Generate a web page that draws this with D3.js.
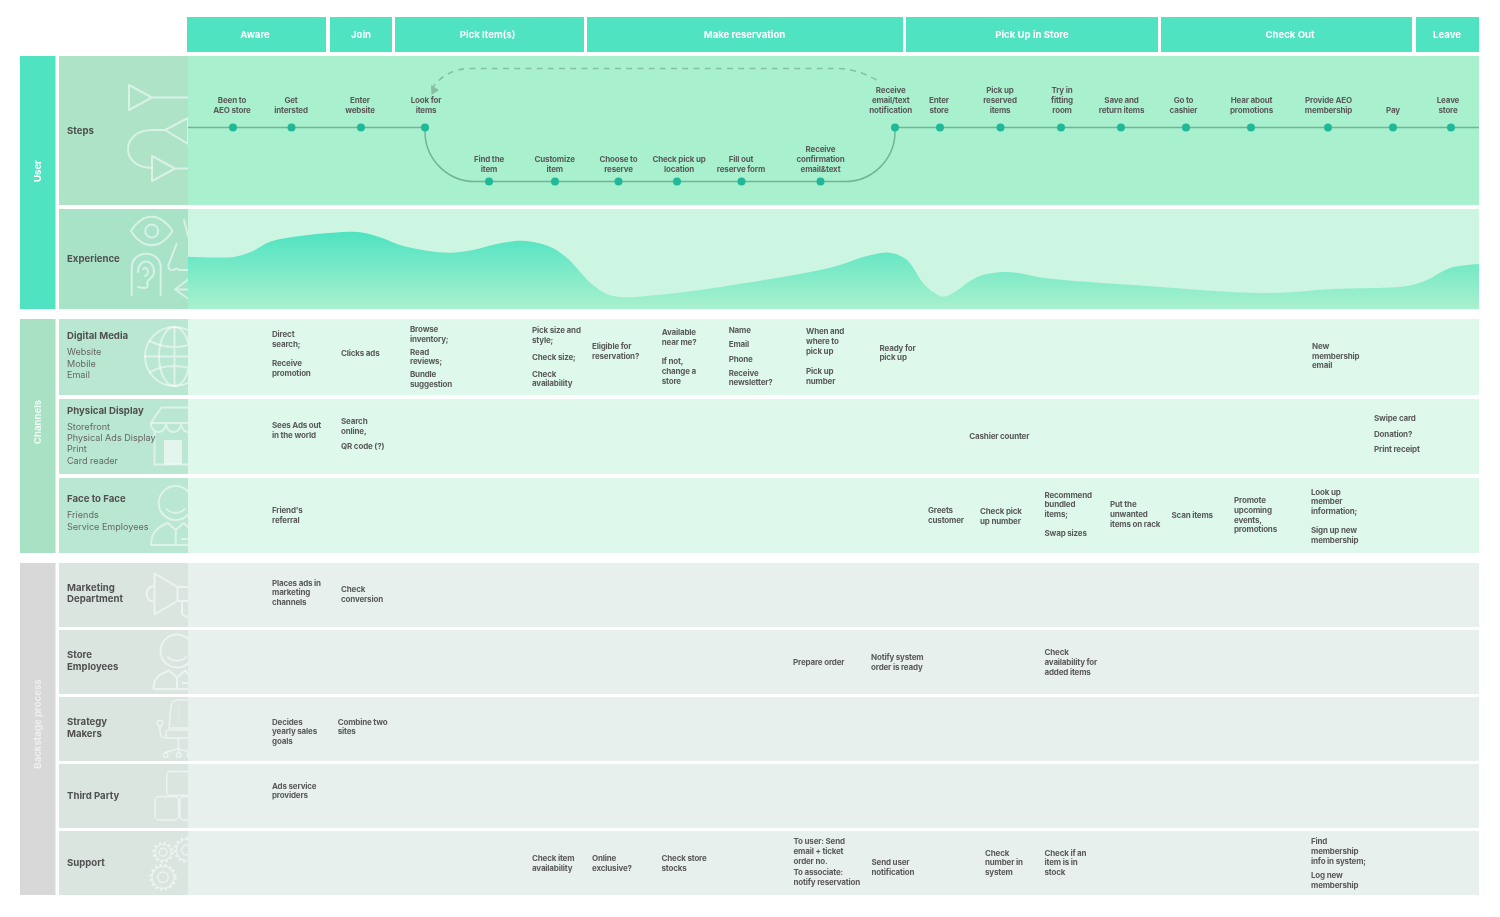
<!DOCTYPE html>
<html>
<head>
<meta charset="utf-8">
<script src="https://cdn.jsdelivr.net/npm/d3@7"></script>
<style>
    html, body { margin: 0; padding: 0; background: #fff; }
    svg { display: block; filter: blur(0.5px); font-family: Inter, "Noto Sans", sans-serif; }
</style>
</head>
<body>
<div id="chart"></div>
<script>
'use strict';

// journey phases, start / end are distances along the journey axis
const stageNames = ['Aware', 'Join', 'Pick Item(s)', 'Make reservation', 'Pick Up in Store', 'Check Out', 'Leave'];
const stageStart = [-1, 142, 207, 399, 718, 973, 1228];
const stageEnd = [138, 204, 396, 715, 970, 1224, 1291];
const stageLabelPos = [67, 173, 299.5, 556.5, 844, 1102, 1259];

// steps: dot position, label position, lane (0 upper, 1 lower)
const stepLabels = [
    ['Been to', 'AEO store'], ['Get', 'intersted'], ['Enter', 'website'], ['Look for', 'items'],
    ['Find the', 'item'], ['Customize', 'item'], ['Choose to', 'reserve'], ['Check pick up', 'location'],
    ['Fill out', 'reserve form'], ['Receive', 'confirmation', 'email&text'],
    ['Receive', 'email/text', 'notification'], ['Enter', 'store'], ['Pick up', 'reserved', 'items'],
    ['Try in', 'fitting', 'room'], ['Save and', 'return items'], ['Go to', 'cashier'],
    ['Hear about', 'promotions'], ['Provide AEO', 'membership'], ['Pay'], ['Leave', 'store']
];
const stepPos = [45, 103.5, 173, 237, 301, 367, 430.5, 489, 553.5, 632.5, 707, 752, 812.5, 873, 933, 998, 1063, 1140, 1205, 1263];
const stepLabelPos = [44, 103, 172, 238, 301, 366.7, 430.5, 491, 553, 632.5, 702.7, 751, 812, 874, 933.5, 995.5, 1063.5, 1140.5, 1205, 1260];
const stepLane = [0, 0, 0, 0, 1, 1, 1, 1, 1, 1, 0, 0, 0, 0, 0, 0, 0, 0, 0, 0];

// experience curve
const expPos = [0, 47, 65, 82, 112, 145, 172, 195, 212, 239, 262, 285, 312, 335, 362, 379, 405, 425, 479, 545, 645, 679, 702, 719, 735, 745, 755, 767, 779, 792, 812, 829, 855, 945, 1079, 1145, 1219, 1239, 1262, 1291];
const expScore = [52.3, 52.3, 58, 67.3, 73, 76.3, 76.7, 70.7, 64, 58.3, 56.3, 59, 65.7, 68.3, 62.3, 51, 24, 13, 15, 24, 42, 53, 56.3, 49, 26, 17, 12.3, 17, 26, 33, 36.7, 36.3, 31.3, 24, 16, 20, 23, 29, 41, 45];

const bandNames = ['User', 'Channels', 'Backstage process'];

const rowTitles = [
    ['Steps'], ['Experience'], ['Digital Media'], ['Physical Display'], ['Face to Face'],
    ['Marketing', 'Department'], ['Store', 'Employees'], ['Strategy', 'Makers'], ['Third Party'], ['Support']
];
const rowTitleY = [[130.7], [258.3], [335.7], [411], [499], [587.7, 599], [655, 666.3], [722, 733.3], [795.3], [862.7]];
const rowItems = [
    [], [], ['Website', 'Mobile', 'Email'], ['Storefront', 'Physical Ads Display', 'Print', 'Card reader'],
    ['Friends', 'Service Employees'], [], [], [], [], []
];
const rowItemY = [[], [], [352.3, 363.7, 375], [426.7, 438, 449.3, 460.7], [515.3, 526.7], [], [], [], [], []];

// touchpoint notes: text lines, position along the journey, page y of every line
const noteText = [
    ['Direct', 'search;', 'Receive', 'promotion'],
    ['Clicks ads'],
    ['Browse', 'inventory;', 'Read', 'reviews;', 'Bundle', 'suggestion'],
    ['Pick size and', 'style;', 'Check size;', 'Check', 'availability'],
    ['Eligible for', 'reservation?'],
    ['Available', 'near me?', 'If not,', 'change a', 'store'],
    ['Name', 'Email', 'Phone', 'Receive', 'newsletter?'],
    ['When and', 'where to', 'pick up', 'Pick up', 'number'],
    ['Ready for', 'pick up'],
    ['New', 'membership', 'email'],
    ['Sees Ads out', 'in the world'],
    ['Search', 'online,', 'QR code (?)'],
    ['Cashier counter'],
    ['Swipe card', 'Donation?', 'Print receipt'],
    ["Friend's", 'referral'],
    ['Greets', 'customer'],
    ['Check pick', 'up number'],
    ['Recommend', 'bundled', 'items;', 'Swap sizes'],
    ['Put the', 'unwanted', 'items on rack'],
    ['Scan items'],
    ['Promote', 'upcoming', 'events,', 'promotions'],
    ['Look up', 'member', 'information;', 'Sign up new', 'membership'],
    ['Places ads in', 'marketing', 'channels'],
    ['Check', 'conversion'],
    ['Prepare order'],
    ['Notify system', 'order is ready'],
    ['Check', 'availability for', 'added items'],
    ['Decides', 'yearly sales', 'goals'],
    ['Combine two', 'sites'],
    ['Ads service', 'providers'],
    ['Check item', 'availability'],
    ['Online', 'exclusive?'],
    ['Check store', 'stocks'],
    ['To user: Send', 'email + ticket', 'order no.', 'To associate:', 'notify reservation'],
    ['Send user', 'notification'],
    ['Check', 'number in', 'system'],
    ['Check if an', 'item is in', 'stock'],
    ['Find', 'membership', 'info in system;', 'Log new', 'membership']
];
const notePos = [84, 153, 222, 344, 404, 473.7, 540.7, 618, 691.5, 1124, 84, 153, 781.3, 1186, 84, 740, 792, 856.5, 922, 983.5, 1046, 1123, 84, 153, 605, 683, 856.5, 84, 149.7, 84, 344, 404, 473.5, 605.5, 683.5, 797, 856.5, 1123];
const noteY = [
    [334, 344, 363, 373], [353.3], [329, 338.7, 351.7, 361.3, 374.3, 384], [330, 339.7, 356.7, 373.7, 383.3],
    [346, 355.7], [332.3, 342, 361.3, 371, 380.7], [330, 344.3, 359, 372.7, 382.3], [331.3, 341, 350.7, 371, 380.7],
    [347.7, 357.3], [346, 355.7, 365.3], [425.3, 435], [421.3, 431, 446.3], [435.7], [418, 434, 449.3],
    [510, 519.7], [510, 519.7], [510.7, 520.7], [494.7, 504.3, 514, 533.3], [504.3, 514, 523.7], [515],
    [500.3, 510, 519.7, 529.3], [491.7, 501.3, 510.7, 530.3, 540],
    [582.7, 592.3, 602], [589, 598.7], [662], [657, 667], [652.3, 662, 671.7],
    [721.7, 731.3, 741], [721.7, 731.3], [785.7, 795.3],
    [858.3, 868], [858.3, 868], [858.3, 868], [841.3, 851, 860.7, 872, 881.7], [862.3, 872], [852.7, 862.3, 872],
    [852.7, 862.3, 872], [841.3, 851, 860.7, 875, 885]
];

const width = 1500, height = 917;
const axisX0 = 188, axisX1 = 1479;
const labelX = 59;

// top and bottom of every row and band on the page
const rowTop = [56, 209, 319, 399, 478, 563, 630, 697, 764, 831];
const rowBottom = [205, 309, 395, 474, 553, 627, 694, 761, 828, 895];
const rowFill = ['#a9f1ce', '#ccf6e1', '#def9ec', '#def9ec', '#def9ec', '#e7f0ed', '#e7f0ed', '#e7f0ed', '#e7f0ed', '#e7f0ed'];
const panelFill = ['#aee3c8', '#a9e3c7', '#b9e7d1', '#b9e7d1', '#b9e7d1', '#dae5e0', '#dae5e0', '#dae5e0', '#dae5e0', '#dae5e0'];
const bandTop = [56, 319, 563];
const bandBottom = [309, 553, 895];
const bandFill = ['#4fe3c1', '#a8e1c3', '#d8d8d8'];
const bandTextY = [171, 422, 724];
const bandTextFill = ['#fff', '#eefaf4', '#eeeeee'];

const x = d3.scaleLinear().domain([0, 1291]).range([axisX0, axisX1]);
const yExp = d3.scaleLinear().domain([0, 100]).range([309, 209]);
const yLane = d3.scaleOrdinal().domain([0, 1]).range([127.5, 181.5]);
const yLaneText = d3.scaleOrdinal().domain([0, 1]).range([110, 169]);
const lineStep = 9.7;
const textFill = '#5a5a5a';

const svg = d3.select('#chart').append('svg')
    .attr('width', width)
    .attr('height', height)
    .attr('viewBox', '0 0 ' + width + ' ' + height);

const defs = svg.append('defs');
const grad = defs.append('linearGradient')
    .attr('id', 'expFill')
    .attr('gradientUnits', 'userSpaceOnUse')
    .attr('x1', 0).attr('x2', 0)
    .attr('y1', yExp(77)).attr('y2', yExp(0));
grad.append('stop').attr('offset', 0).attr('stop-color', '#4fe3c1');
grad.append('stop').attr('offset', 1).attr('stop-color', '#a9f1ce');

defs.append('clipPath').attr('id', 'panelClip')
    .append('rect').attr('x', labelX).attr('y', 0).attr('width', axisX0 - labelX).attr('height', height);

// stage header
const stages = svg.append('g').selectAll('g').data(stageNames).enter().append('g');
stages.append('rect')
    .attr('x', function(d, i) { return x(stageStart[i]); })
    .attr('y', 17)
    .attr('width', function(d, i) { return x(stageEnd[i]) - x(stageStart[i]); })
    .attr('height', 35)
    .attr('fill', '#4fe3c1');
stages.append('text')
    .attr('x', function(d, i) { return x(stageLabelPos[i]); })
    .attr('y', 34.5)
    .attr('dy', '.35em')
    .attr('text-anchor', 'middle')
    .attr('fill', '#fff')
    .attr('font-size', 9.6)
    .attr('font-weight', 700)
    .text(function(d) { return d; });

// left bands
const bands = svg.append('g').selectAll('g').data(bandNames).enter().append('g');
bands.append('rect')
    .attr('x', 20)
    .attr('y', function(d, i) { return bandTop[i]; })
    .attr('width', 35.5)
    .attr('height', function(d, i) { return bandBottom[i] - bandTop[i]; })
    .attr('fill', function(d, i) { return bandFill[i]; });
bands.append('text')
    .attr('transform', function(d, i) { return 'translate(38,' + bandTextY[i] + ') rotate(-90)'; })
    .attr('dy', '.35em')
    .attr('text-anchor', 'middle')
    .attr('fill', function(d, i) { return bandTextFill[i]; })
    .attr('font-size', 9.6)
    .attr('font-weight', 700)
    .text(function(d) { return d; });

// rows and label panels
const rows = svg.append('g').selectAll('g').data(rowTitles).enter().append('g');
rows.append('rect')
    .attr('x', axisX0)
    .attr('y', function(d, i) { return rowTop[i]; })
    .attr('width', axisX1 - axisX0)
    .attr('height', function(d, i) { return rowBottom[i] - rowTop[i]; })
    .attr('fill', function(d, i) { return rowFill[i]; });
rows.append('rect')
    .attr('x', labelX)
    .attr('y', function(d, i) { return rowTop[i]; })
    .attr('width', axisX0 - labelX)
    .attr('height', function(d, i) { return rowBottom[i] - rowTop[i]; })
    .attr('fill', function(d, i) { return panelFill[i]; });

// line icons in the panels, only decoration
const icons = svg.append('g')
    .attr('clip-path', 'url(#panelClip)')
    .attr('fill', 'none')
    .attr('stroke', '#fff')
    .attr('stroke-opacity', 0.52)
    .attr('stroke-width', 2)
    .attr('stroke-linejoin', 'round')
    .attr('stroke-linecap', 'round');

function iconPath(d, w) {
    return icons.append('path').attr('d', d).attr('stroke-width', w || 2);
}
function iconCircle(cx, cy, r, w) {
    return icons.append('circle').attr('cx', cx).attr('cy', cy).attr('r', r).attr('stroke-width', w || 2);
}

// steps
iconPath('M129,85 L152,97.5 L129,110 Z M152,97.5 H190');
iconPath('M165,130 L188,118 V144 Z M165,130 H152 C120,130 120,168 152,168');
iconPath('M152,156 L175,168.5 L152,181 Z M175,168.5 H190');
// experience
iconPath('M131,231 C143,212 160,212 172.5,231 C160,250 143,250 131,231 Z');
iconCircle(151.7, 231, 6.5);
iconPath('M184,220 L188,236');
iconPath('M176.5,244 L168.5,265 C167.5,270 171,270 174,270 C176,268 178,268 179,270 H190');
iconPath('M131.7,295 V268 C131.7,249 160.7,249 160.7,268 V295');
iconPath('M138,272 C138,258 154,258 154,272 C154,278 149,278 147,282 C150,290 143,288 138,287 M143,269 C148,265 150,274 145,276');
iconPath('M190,278 L175,289.5 L190,300 M176,289.5 H190');
// digital media
iconCircle(174.5, 356.5, 29.5);
icons.append('ellipse').attr('cx', 174.5).attr('cy', 356.5).attr('rx', 15.5).attr('ry', 29.5);
iconPath('M174.5,327 V386 M145,356.5 H204 M150,341 C165,349 184,349 199,341 M150,372 C165,364 184,364 199,372');
// physical display
iconPath('M161.5,407.5 H190 M161.5,407.5 L150.7,423 C150.7,435 166,435 166,423 C166,435 181,435 181,423 C181,435 196,435 196,423 M150.7,423 H190 M154.5,431 V464.5 H190');
icons.append('rect').attr('x', 164).attr('y', 440).attr('width', 18).attr('height', 24.5)
    .attr('fill', '#fff').attr('fill-opacity', 0.6).attr('stroke', 'none');
// people
function person(cx, cy, r, bottom, left) {
    iconCircle(cx, cy, r);
    iconPath('M' + (cx - 9) + ',' + (cy + 6) + ' C' + (cx - 5) + ',' + (cy + 11) + ' ' + (cx + 5) + ',' + (cy + 11) + ' ' + (cx + 9) + ',' + (cy + 6));
    iconPath('M' + (cx - 8) + ',' + (cy + r + 3) + ' C' + (left + 6) + ',' + (cy + r + 7) + ' ' + left + ',' + (bottom - 12) + ' ' + left + ',' + bottom + ' H190' +
        ' M' + (cx - 8) + ',' + (cy + r + 3) + ' L' + cx + ',' + (cy + r + 10) + ' L' + (cx + 8) + ',' + (cy + r + 3) + ' L190,' + (cy + r + 9) +
        ' M' + cx + ',' + (cy + r + 10) + ' V' + bottom + ' M' + (cx + 6) + ',' + (bottom - 6) + ' H190');
}
person(175.7, 503, 17, 545, 151);
person(177, 651, 16.5, 689, 153.5);
// marketing
iconPath('M154.5,573.5 L177.5,587 V601 L154.5,614.5 Z M177.5,587 H190 M177.5,601 H190 M154.5,586 C144,586 144,602 154.5,602 M182,603 V612 C182,617 188,617 190,617');
// strategy chair
iconPath('M169,728 L171,706 C171.5,701 175,700 179,700 H190 M169,728 H190', 1.5);
iconPath('M179,706 V722', 1.2).attr('stroke-dasharray', '1 3');
iconPath('M166,732 C166,730 168,730 170,730 H190 V738 H169 C167,738 166,736 166,734 Z', 1.5);
iconPath('M160,726 V732 C160,736 163,738 166,738 M178.5,738 V749 M178.5,749 L165.7,752 M178.5,749 V752 M178.5,749 L190,752', 1.5);
iconCircle(160, 723.3, 2.8, 1.5);
iconCircle(165.7, 755, 2.3, 1.5);
iconCircle(178.7, 755, 2.3, 1.5);
iconCircle(189.5, 755, 2.3, 1.5);
// third party boxes
[[166.7, 771.5, 24, 24], [155, 796.5, 23.5, 23.5], [180, 796.5, 24, 23.5]].forEach(function(b) {
    icons.append('rect').attr('x', b[0]).attr('y', b[1]).attr('width', b[2]).attr('height', b[3]).attr('rx', 4).attr('stroke-width', 1.5);
});
// support gears
function gear(cx, cy, r) {
    iconCircle(cx, cy, r - 1.5, 1.2);
    iconCircle(cx, cy, r, 2.2).attr('stroke-dasharray', '2.4 2.6').attr('stroke-linecap', 'butt');
    iconCircle(cx, cy, r * 0.42, 1.4);
}
gear(163, 852.3, 9.5);
gear(186.7, 850, 12);
gear(163, 877.3, 12.5);

// row titles and their items
rows.each(function(d, i) {
    const g = d3.select(this);
    d.forEach(function(t, j) {
        g.append('text')
            .attr('x', 67)
            .attr('y', rowTitleY[i][j])
            .attr('dy', '.35em')
            .attr('fill', '#505050')
            .attr('font-size', 9.6)
            .attr('font-weight', 700)
            .text(t);
    });
    rowItems[i].forEach(function(t, j) {
        g.append('text')
            .attr('x', 67)
            .attr('y', rowItemY[i][j])
            .attr('dy', '.35em')
            .attr('fill', '#666')
            .attr('font-size', 9.05)
            .text(t);
    });
});
// the rows were drawn under the icons, so lift their text above them
rows.selectAll('text').each(function() { svg.node().appendChild(this); });

// experience area
const expData = expPos.map(function(p, i) { return { pos: p, score: expScore[i] }; });
const expArea = d3.area()
    .x(function(d) { return x(d.pos); })
    .y0(yExp(0))
    .y1(function(d) { return yExp(d.score); })
    .curve(d3.curveCatmullRom.alpha(0.5));
svg.append('path')
    .datum(expData)
    .attr('d', expArea)
    .attr('fill', 'url(#expFill)');

// steps line: upper lane, dips to the lower lane and back
const r = 50;
const look = x(stepPos[3]);
const notify = x(stepPos[10]);
const up = yLane(0), down = yLane(1);
const stepLine = d3.path();
stepLine.moveTo(x(0), up);
stepLine.lineTo(look, up);
stepLine.arcTo(look, down, look + r, down, r);
stepLine.lineTo(notify - r, down);
stepLine.arcTo(notify, down, notify, up, r);
stepLine.lineTo(notify, up);
stepLine.lineTo(x(1291), up);
svg.append('path')
    .attr('d', stepLine.toString())
    .attr('fill', 'none')
    .attr('stroke', '#72b497')
    .attr('stroke-width', 1.5);

// dashed return from notification to look for items
const back = d3.path();
back.moveTo(x(688.5), 80);
back.quadraticCurveTo(x(668), 68.5, x(650), 68.5);
back.lineTo(x(283), 68.5);
back.quadraticCurveTo(x(259), 68.5, x(245), 87);
svg.append('path')
    .attr('d', back.toString())
    .attr('fill', 'none')
    .attr('stroke', '#86bfa4')
    .attr('stroke-width', 1.6)
    .attr('stroke-dasharray', '6 5.2');
svg.append('path')
    .attr('d', d3.line()([[x(243.5), 95], [x(243), 85], [x(251), 90]]) + 'Z')
    .attr('fill', '#86bfa4');

svg.append('g').selectAll('circle').data(stepPos).enter().append('circle')
    .attr('cx', function(d) { return x(d); })
    .attr('cy', function(d, i) { return yLane(stepLane[i]); })
    .attr('r', 4)
    .attr('fill', '#21b898');

svg.append('g').selectAll('text').data(stepLabels).enter().append('text')
    .attr('text-anchor', 'middle')
    .attr('font-size', 8)
    .attr('font-weight', 700)
    .attr('letter-spacing', -0.17)
    .attr('fill', textFill)
    .each(function(lines, i) {
        const el = d3.select(this);
        lines.forEach(function(t, j) {
            el.append('tspan')
                .attr('x', x(stepLabelPos[i]))
                .attr('y', yLaneText(stepLane[i]) - (lines.length - 1 - j) * lineStep)
                .attr('dy', '.35em')
                .text(t);
        });
    });

// touchpoint notes
svg.append('g').selectAll('text').data(noteText).enter().append('text')
    .attr('font-size', 8)
    .attr('font-weight', 700)
    .attr('letter-spacing', -0.17)
    .attr('fill', textFill)
    .each(function(lines, i) {
        const el = d3.select(this);
        lines.forEach(function(t, j) {
            el.append('tspan')
                .attr('x', x(notePos[i]))
                .attr('y', noteY[i][j])
                .attr('dy', '.35em')
                .text(t);
        });
    });
</script>
</body>
</html>
